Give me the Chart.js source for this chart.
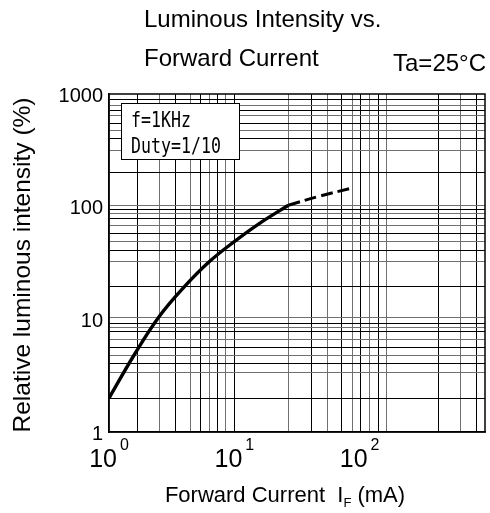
<!DOCTYPE html>
<html>
<head>
<meta charset="utf-8">
<script src="https://cdn.jsdelivr.net/npm/chart.js@4.4.1/dist/chart.umd.min.js"></script>
<style>
  html, body { margin: 0; padding: 0; background: #fff; }
  canvas { display: block; }
</style>
</head>
<body>
<canvas id="c" width="490" height="513"></canvas>
<script>
// ---- data ----
const solidCurrent = [1, 1.6, 2.5, 4, 6.3, 10, 15.8, 27];
const solidIntensity = [2, 4.9, 10.5, 19.5, 32.4, 49, 70.8, 103];
const dashedCurrent = [27, 48, 84];
const dashedIntensity = [103, 124, 145];

// grid lines as drawn on the (hand-drawn) reference grid, in data units
const xGridValues = [1.68, 2.55, 3.41, 4.44, 5.41, 6.3, 7.35, 8.58, 10, 27.3, 41.2, 55.4, 72.1, 87.9, 102, 119, 141, 165, 427, 641, 857];
const yGridValues = [1.98, 3.34, 4.05, 4.73, 5.62, 6.62, 7.73, 8.46, 9.18, 10.4, 19.4, 32.8, 41.1, 48.7, 57.9, 68.6, 78.6, 87.1, 94.6, 103, 200, 318, 404, 479, 549, 651, 721, 798, 897];

const xTickValues = [1, 10, 100];
const xTickExponents = ['0', '1', '2'];
const yTickValues = [1, 10, 100, 1000];
const yTickLabels = ['1', '10', '100', '1000'];

const titleLines = ['Luminous Intensity vs.', 'Forward Current'];
const conditionText = 'Ta=25°C';
const noteLines = ['f=1KHz', 'Duty=1/10'];
const xTitleMain = 'Forward Current  I';
const xTitleSub = 'F';
const xTitleEnd = ' (mA)';
const yTitle = 'Relative luminous intensity (%)';

const FONT = "'Liberation Sans', Arial, Helvetica, sans-serif";

function gridColor(ctx) {
  return (ctx.index % 2 === 0) ? '#000000' : '#707070';
}

const decorPlugin = {
  id: 'decor',
  afterDraw(chart) {
    const ctx = chart.ctx;
    const a = chart.chartArea;
    const xs = chart.scales.x, ys = chart.scales.y;
    ctx.save();
    // frame
    ctx.strokeStyle = '#000';
    ctx.lineWidth = 1.5;
    ctx.strokeRect(a.left, a.top, a.right - a.left, a.bottom - a.top);

    // titles
    ctx.fillStyle = '#000';
    ctx.textAlign = 'left';
    ctx.textBaseline = 'middle';
    ctx.font = '24px ' + FONT;
    ctx.fillText(titleLines[0], 144, 20);
    ctx.fillText(titleLines[1], 144, 59);
    ctx.textAlign = 'right';
    ctx.fillText(conditionText, 486, 64);

    // y tick labels
    ctx.font = '20px ' + FONT;
    ctx.textAlign = 'right';
    yTickValues.forEach((v, i) => {
      ctx.fillText(yTickLabels[i], 103, ys.getPixelForValue(v) + 2);
    });

    // x tick labels 10^n
    xTickValues.forEach((v, i) => {
      const px = xs.getPixelForValue(v);
      ctx.font = '25px ' + FONT;
      const wb = ctx.measureText('10').width;
      ctx.font = '16px ' + FONT;
      const we = ctx.measureText(xTickExponents[i]).width;
      const total = wb + 3 + we;
      const left = px - total / 2;
      ctx.textAlign = 'left';
      ctx.font = '25px ' + FONT;
      ctx.fillText('10', left, 460);
      ctx.font = '16px ' + FONT;
      ctx.fillText(xTickExponents[i], left + wb + 3, 446);
    });

    // x axis title
    ctx.font = '22px ' + FONT;
    const w1 = ctx.measureText(xTitleMain).width;
    ctx.font = '13px ' + FONT;
    const w2 = ctx.measureText(xTitleSub).width;
    ctx.font = '22px ' + FONT;
    const w3 = ctx.measureText(xTitleEnd).width;
    const tot = w1 + w2 + w3;
    let x0 = 285 - tot / 2;
    ctx.textAlign = 'left';
    ctx.fillText(xTitleMain, x0, 496);
    ctx.font = '13px ' + FONT;
    ctx.fillText(xTitleSub, x0 + w1, 503);
    ctx.font = '22px ' + FONT;
    ctx.fillText(xTitleEnd, x0 + w1 + w2, 496);

    // y axis title
    ctx.save();
    ctx.translate(23, 265);
    ctx.rotate(-Math.PI / 2);
    ctx.textAlign = 'center';
    ctx.font = '24.5px ' + FONT;
    ctx.fillText(yTitle, 0, 0);
    ctx.restore();

    // note box
    ctx.fillStyle = '#fff';
    ctx.fillRect(121, 103, 119, 57);
    ctx.strokeStyle = '#000';
    ctx.lineWidth = 1;
    ctx.strokeRect(121.5, 103.5, 118, 56);
    ctx.fillStyle = '#000';
    ctx.textAlign = 'left';
    ctx.textBaseline = 'alphabetic';
    ctx.font = "16.6px 'DejaVu Sans Mono', monospace";
    [[noteLines[0], 127], [noteLines[1], 153]].forEach(([t, y]) => {
      ctx.save();
      ctx.translate(131, y);
      ctx.scale(1, 1.3);
      ctx.fillText(t, 0, 0);
      ctx.restore();
    });
    ctx.restore();
  }
};

const toPoints = (xs, ys) => xs.map((x, i) => ({ x: x, y: ys[i] }));

new Chart(document.getElementById('c'), {
  type: 'line',
  data: {
    datasets: [
      {
        data: toPoints(solidCurrent, solidIntensity),
        borderColor: '#000', borderWidth: 3.4, pointRadius: 0,
        tension: 0.4, fill: false
      },
      {
        data: toPoints(dashedCurrent, dashedIntensity),
        borderColor: '#000', borderWidth: 3, pointRadius: 0,
        borderDash: [12, 5], tension: 0.4, fill: false
      }
    ]
  },
  options: {
    responsive: false,
    animation: false,
    devicePixelRatio: 1,
    layout: { padding: { left: 109, right: 5, top: 94, bottom: 81 } },
    plugins: { legend: { display: false }, tooltip: { enabled: false } },
    scales: {
      x: {
        type: 'logarithmic', min: 1, max: 1000,
        ticks: { display: false },
        grid: { color: gridColor, lineWidth: 1, drawTicks: false },
        border: { display: true, color: '#000', width: 1.5 },
        afterBuildTicks: (s) => { s.ticks = xGridValues.map(v => ({ value: v })); }
      },
      y: {
        type: 'logarithmic', min: 1, max: 1000,
        ticks: { display: false },
        grid: { color: gridColor, lineWidth: 1, drawTicks: false },
        border: { display: true, color: '#000', width: 1.5 },
        afterBuildTicks: (s) => { s.ticks = yGridValues.map(v => ({ value: v })); }
      }
    }
  },
  plugins: [decorPlugin]
});
</script>
</body>
</html>
